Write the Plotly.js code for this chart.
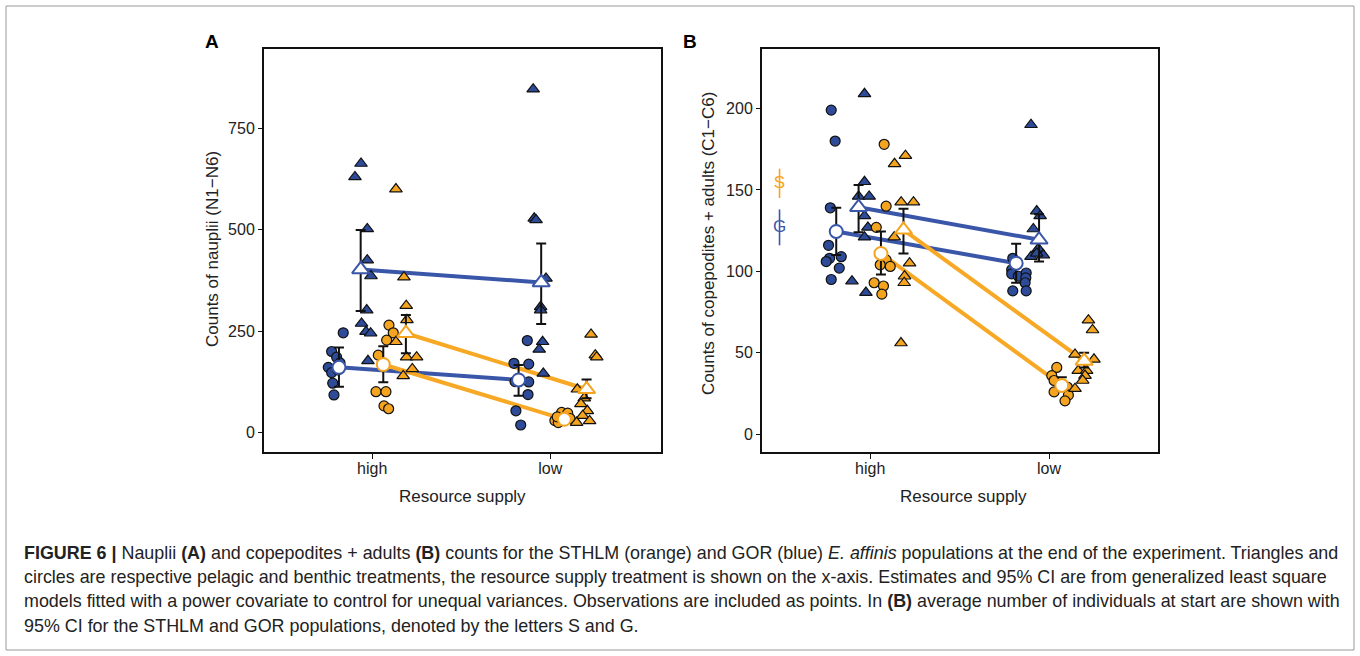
<!DOCTYPE html>
<html>
<head>
<meta charset="utf-8">
<script src="https://cdn.plot.ly/plotly-3.0.1.min.js"></script>
<style>
html,body{margin:0;padding:0;background:#fff;}
#chart{width:1360px;height:656px;}
</style>
</head>
<body>
<div id="chart"></div>
<script>
// ---------------- DATA ----------------
const categories = ['high', 'low'];
const categoryPos = [1, 2];

// Panel A: nauplii counts (observations, x = jittered category position)
const A_gorPelagic_x = [0.937,0.903,0.972,0.972,0.993,0.969,0.940,0.965,0.991,0.976, 1.904,1.910,1.920,1.976,1.946,1.946,1.957,1.938,1.961];
const A_gorPelagic_y = [663,630,502,425,386,302,269,249,245,177, 846,528,524,380,310,302,224,205,146];
const A_gorBenthic_x = [0.837,0.772,0.800,0.753,0.772,0.778,0.785,0.819,0.807, 1.871,1.796,1.879,1.802,1.879,1.875,1.807,1.834];
const A_gorBenthic_y = [246,200,186,161,148,122,93,172,155, 227,171,169,126,125,94,54,19];
const A_sthBenthic_x = [1.094,1.118,1.081,1.034,1.021,1.077,1.066,1.092, 2.064,2.098,2.026,2.045,2.111,2.039];
const A_sthBenthic_y = [265,246,228,191,101,101,66,59, 50,48,30,25,35,39];
const A_sthPelagic_x = [1.133,1.178,1.191,1.195,1.133,1.193,1.249,1.225,1.174, 2.229,2.253,2.261,2.152,2.191,2.172,2.208,2.182,2.221,2.148];
const A_sthPelagic_y = [600,383,313,278,224,186,186,157,140, 242,191,186,107,85,71,54,42,29,25];

// Panel A: model estimates with 95% CI (high, low)
const A_est_gorBenthic_x = [0.813, 1.822], A_est_gorBenthic = [161, 130], A_ci_gorBenthic_lo = [113, 91], A_ci_gorBenthic_hi = [210, 167];
const A_est_gorPelagic_x = [0.935, 1.949], A_est_gorPelagic = [402, 370], A_ci_gorPelagic_lo = [300, 268], A_ci_gorPelagic_hi = [499, 466];
const A_est_sthBenthic_x = [1.062, 2.079], A_est_sthBenthic = [168, 33], A_ci_sthBenthic_lo = [124, 25], A_ci_sthBenthic_hi = [213, 42];
const A_est_sthPelagic_x = [1.189, 2.204], A_est_sthPelagic = [245, 107], A_ci_sthPelagic_lo = [196, 85], A_ci_sthPelagic_hi = [290, 131];
const A_yTicks = [0, 250, 500, 750];

// Panel B: copepodites + adults counts
const B_gorPelagic_x = [0.968,0.968,0.935,0.994,0.968,0.987,0.968,0.898,0.976, 1.899,1.931,1.950,1.912,1.940,1.899,1.968,1.931];
const B_gorPelagic_y = [209,155,146,146,134,127,121,94,87, 190,137,134,126,114,109,110,111];
const B_gorBenthic_x = [0.782,0.804,0.777,0.767,0.773,0.754,0.838,0.827,0.782, 1.797,1.791,1.791,1.828,1.872,1.870,1.866,1.797,1.872];
const B_gorBenthic_y = [199,180,139,116,108,106,109,102,95, 108,101,98.5,97,99,96,93,88,88];
const B_sthBenthic_x = [1.078,1.089,1.034,1.089,1.056,1.112,1.022,1.074,1.065, 2.043,2.015,2.028,2.102,2.028,2.108,2.089];
const B_sthBenthic_y = [178,140,127,107,104,103,93,91,86, 41,36,33,29,26,24,20.5];
const B_sthPelagic_x = [1.197,1.136,1.173,1.242,1.134,1.220,1.192,1.190,1.172, 2.220,2.243,2.145,2.251,2.163,2.210,2.201,2.188,2.145];
const B_sthPelagic_y = [171,166,142.5,142.5,121,105,97,93,56, 70,64,49,46,39,39,36,33,28];

const B_est_gorBenthic_x = [0.810, 1.816], B_est_gorBenthic = [124.5, 105], B_ci_gorBenthic_lo = [110, 93], B_ci_gorBenthic_hi = [139, 117];
const B_est_gorPelagic_x = [0.935, 1.944], B_est_gorPelagic = [139.4, 119.4], B_ci_gorPelagic_lo = [124, 106], B_ci_gorPelagic_hi = [153, 135];
const B_est_sthBenthic_x = [1.060, 2.071], B_est_sthBenthic = [111, 30], B_ci_sthBenthic_lo = [98, 27], B_ci_sthBenthic_hi = [124.5, 35];
const B_est_sthPelagic_x = [1.186, 2.196], B_est_sthPelagic = [125.5, 45], B_ci_sthPelagic_lo = [111, 41], B_ci_sthPelagic_hi = [138.5, 50];
const B_yTicks = [0, 50, 100, 150, 200];

// Panel B: start averages with 95% CI (S = STHLM, G = GOR)
const startLabels = ['S', 'G'];
const startX = [0.493, 0.493];
const startMean = [154, 127];
const startLo = [145, 116];
const startHi = [163, 138];

// ---------------- STYLE ----------------
const BLUE = '#2d4b98', BLUE_LINE = '#3a56a8';
const ORANGE = '#f5a420', ORANGE_LINE = '#f7a825';
const FONT = 'Liberation Sans, Arial, Helvetica, sans-serif';
const W = 1360, H = 656;
const px = v => v / W, py = v => 1 - v / H;

function obs(x, y, color, symbol, xa, ya) {
  return {x, y, xaxis: xa, yaxis: ya, type: 'scatter', mode: 'markers', hoverinfo: 'skip', showlegend: false,
    marker: {color, symbol, size: symbol === 'circle' ? 10 : 11, line: {color: '#111', width: 1.2}}};
}
function line(x, y, color, xa, ya) {
  return {x, y, xaxis: xa, yaxis: ya, type: 'scatter', mode: 'lines', hoverinfo: 'skip', showlegend: false,
    line: {color, width: 4}};
}
function ci(x, y, lo, hi, xa, ya) {
  return {x, y, xaxis: xa, yaxis: ya, type: 'scatter', mode: 'markers', hoverinfo: 'skip', showlegend: false,
    marker: {size: 1, opacity: 0},
    error_y: {type: 'data', symmetric: false, array: hi.map((h, i) => h - y[i]), arrayminus: y.map((v, i) => v - lo[i]),
      color: '#111', thickness: 2, width: 5}};
}
function est(x, y, color, symbol, xa, ya) {
  return {x, y, xaxis: xa, yaxis: ya, type: 'scatter', mode: 'markers', hoverinfo: 'skip', showlegend: false,
    marker: {color: '#fff', symbol, size: symbol === 'circle' ? 13 : 15, line: {color, width: 2}}};
}

const traces = [];
function panel(d, xa, ya) {
  traces.push(line(d.gbx, d.gb, BLUE_LINE, xa, ya));
  traces.push(line(d.gpx, d.gp, BLUE_LINE, xa, ya));
  traces.push(line(d.sbx, d.sb, ORANGE_LINE, xa, ya));
  traces.push(line(d.spx, d.sp, ORANGE_LINE, xa, ya));
  traces.push(obs(d.o.gbx, d.o.gby, BLUE, 'circle', xa, ya));
  traces.push(obs(d.o.gpx, d.o.gpy, BLUE, 'triangle-up', xa, ya));
  traces.push(obs(d.o.sbx, d.o.sby, ORANGE, 'circle', xa, ya));
  traces.push(obs(d.o.spx, d.o.spy, ORANGE, 'triangle-up', xa, ya));
  traces.push(ci(d.gbx, d.gb, d.gbl, d.gbh, xa, ya));
  traces.push(ci(d.gpx, d.gp, d.gpl, d.gph, xa, ya));
  traces.push(ci(d.sbx, d.sb, d.sbl, d.sbh, xa, ya));
  traces.push(ci(d.spx, d.sp, d.spl, d.sph, xa, ya));
  traces.push(est(d.gbx, d.gb, BLUE_LINE, 'circle', xa, ya));
  traces.push(est(d.gpx, d.gp, BLUE_LINE, 'triangle-up', xa, ya));
  traces.push(est(d.sbx, d.sb, ORANGE, 'circle', xa, ya));
  traces.push(est(d.spx, d.sp, ORANGE, 'triangle-up', xa, ya));
}
panel({
  o: {gbx: A_gorBenthic_x, gby: A_gorBenthic_y, gpx: A_gorPelagic_x, gpy: A_gorPelagic_y,
      sbx: A_sthBenthic_x, sby: A_sthBenthic_y, spx: A_sthPelagic_x, spy: A_sthPelagic_y},
  gbx: A_est_gorBenthic_x, gb: A_est_gorBenthic, gbl: A_ci_gorBenthic_lo, gbh: A_ci_gorBenthic_hi,
  gpx: A_est_gorPelagic_x, gp: A_est_gorPelagic, gpl: A_ci_gorPelagic_lo, gph: A_ci_gorPelagic_hi,
  sbx: A_est_sthBenthic_x, sb: A_est_sthBenthic, sbl: A_ci_sthBenthic_lo, sbh: A_ci_sthBenthic_hi,
  spx: A_est_sthPelagic_x, sp: A_est_sthPelagic, spl: A_ci_sthPelagic_lo, sph: A_ci_sthPelagic_hi
}, 'x', 'y');
panel({
  o: {gbx: B_gorBenthic_x, gby: B_gorBenthic_y, gpx: B_gorPelagic_x, gpy: B_gorPelagic_y,
      sbx: B_sthBenthic_x, sby: B_sthBenthic_y, spx: B_sthPelagic_x, spy: B_sthPelagic_y},
  gbx: B_est_gorBenthic_x, gb: B_est_gorBenthic, gbl: B_ci_gorBenthic_lo, gbh: B_ci_gorBenthic_hi,
  gpx: B_est_gorPelagic_x, gp: B_est_gorPelagic, gpl: B_ci_gorPelagic_lo, gph: B_ci_gorPelagic_hi,
  sbx: B_est_sthBenthic_x, sb: B_est_sthBenthic, sbl: B_ci_sthBenthic_lo, sbh: B_ci_sthBenthic_hi,
  spx: B_est_sthPelagic_x, sp: B_est_sthPelagic, spl: B_ci_sthPelagic_lo, sph: B_ci_sthPelagic_hi
}, 'x2', 'y2');

// Start averages S and G
const startColors = [ORANGE, BLUE_LINE];
startLabels.forEach((lab, i) => {
  traces.push({x: [startX[i]], y: [startMean[i]], xaxis: 'x2', yaxis: 'y2', type: 'scatter', mode: 'text',
    text: [lab], textposition: 'middle center', hoverinfo: 'skip', showlegend: false,
    textfont: {family: FONT, size: 17, color: startColors[i]},
    error_y: {type: 'data', symmetric: false, array: [startHi[i] - startMean[i]], arrayminus: [startMean[i] - startLo[i]],
      color: startColors[i], thickness: 1.6, width: 0}});
});

// ---------------- LAYOUT ----------------
function yax(range, ticks, anchor) {
  return {domain: [py(452), py(49)], range, anchor, tickvals: ticks, ticktext: ticks.map(String),
    showline: true, mirror: true, linecolor: '#111', linewidth: 2, ticks: 'outside', ticklen: 4, tickwidth: 1,
    tickcolor: '#111', showgrid: false, zeroline: false, tickfont: {family: FONT, size: 16, color: '#222'}};
}
function xax(domain, range, anchor) {
  return {domain, range, anchor, tickvals: categoryPos, ticktext: categories,
    showline: true, mirror: true, linecolor: '#111', linewidth: 2, ticks: 'outside', ticklen: 5, tickwidth: 1,
    tickcolor: '#111', showgrid: false, zeroline: false, ticklabelstandoff: -4,
    tickfont: {family: FONT, size: 16, color: '#222'}};
}

const captionLines = [
  '<b>FIGURE 6 |</b> Nauplii <b>(A)</b> and copepodites + adults <b>(B)</b> counts for the STHLM (orange) and GOR (blue) <i>E. affinis</i> populations at the end of the experiment. Triangles and',
  'circles are respective pelagic and benthic treatments, the resource supply treatment is shown on the x-axis. Estimates and 95% CI are from generalized least square',
  'models fitted with a power covariate to control for unequal variances. Observations are included as points. In <b>(B)</b> average number of individuals at start are shown with',
  '95% CI for the STHLM and GOR populations, denoted by the letters S and G.'
];
const captionY = [553, 577, 601, 626];

function ann(text, x, y, size, extra) {
  return Object.assign({text, x: px(x), y: py(y), xref: 'paper', yref: 'paper', xanchor: 'center', yanchor: 'middle',
    showarrow: false, font: {family: FONT, size, color: '#222'}}, extra || {});
}
const annotations = [
  ann('<b>A</b>', 212, 42, 19, {font: {family: FONT, size: 19, color: '#000'}}),
  ann('<b>B</b>', 690, 42, 19, {font: {family: FONT, size: 19, color: '#000'}}),
  ann('Counts of nauplii (N1\u2212N6)', 212, 249, 17, {textangle: -90}),
  ann('Counts of copepodites + adults (C1\u2212C6)', 708, 244, 17, {textangle: -90}),
  ann('Resource supply', 462.5, 496, 17),
  ann('Resource supply', 963, 496, 17)
];
captionLines.forEach((t, i) => annotations.push(ann(t, 22, captionY[i], 17.9, {xanchor: 'left', align: 'left',
  font: {family: FONT, size: 17.9, color: '#222'}})));

const layout = {
  width: W, height: H, margin: {l: 0, r: 0, t: 0, b: 0}, paper_bgcolor: '#fff', plot_bgcolor: '#fff',
  showlegend: false, font: {family: FONT},
  xaxis: xax([px(264), px(661)], [0.392, 2.622], 'y'),
  yaxis: yax([-47.5, 945], A_yTicks, 'x'),
  xaxis2: xax([px(762), px(1158)], [0.395, 2.609], 'y2'),
  yaxis2: yax([-10.9, 236.5], B_yTicks, 'x2'),
  annotations,
  shapes: [{type: 'rect', xref: 'paper', yref: 'paper', x0: px(6), x1: px(1354), y0: py(650), y1: py(6),
    line: {color: '#999', width: 1}, fillcolor: 'rgba(0,0,0,0)'}]
};

Plotly.newPlot('chart', traces, layout, {staticPlot: true, displayModeBar: false});
</script>
</body>
</html>
